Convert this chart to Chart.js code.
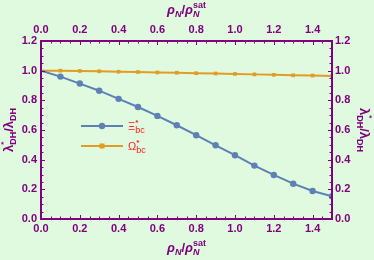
<!DOCTYPE html>
<html>
<head>
<meta charset="utf-8">
<script src="https://cdn.jsdelivr.net/npm/chart.js@4/dist/chart.umd.min.js"></script>
<style>
  html, body { margin: 0; padding: 0; background: #e0fadf; }
  #wrap { width: 374px; height: 260px; }
</style>
</head>
<body>
<div id="wrap"><canvas id="chart"></canvas></div>
<script>
// ---------------- Data ----------------
const densities = [0, 0.1, 0.2, 0.3, 0.4, 0.5, 0.6, 0.7, 0.8, 0.9, 1.0, 1.1, 1.2, 1.3, 1.4, 1.5];
const xiValues = [1.0, 0.96, 0.913, 0.865, 0.81, 0.755, 0.695, 0.632, 0.565, 0.497, 0.43, 0.36, 0.297, 0.238, 0.189, 0.153];
const omegaValues = [1.0, 1.0, 0.998, 0.996, 0.993, 0.991, 0.988, 0.986, 0.983, 0.981, 0.978, 0.975, 0.972, 0.969, 0.967, 0.964];
const xTicks = [0, 0.2, 0.4, 0.6, 0.8, 1.0, 1.2, 1.4];
const yTicks = [0, 0.2, 0.4, 0.6, 0.8, 1.0, 1.2];

const PURPLE = "#800080";
const BLUE = "#5e81b5";
const ORANGE = "#e19c24";
const RED = "#ff1a1a";
const FONT = "'Liberation Sans', Arial, sans-serif";

// ---------------- Helper Functions ----------------

// Draw text made of pieces (base, sub, sup), centred on x
function drawRich(ctx, segs, x, y) {
  let total = 0, held = 0;
  segs.forEach((s) => {
    ctx.font = (s.italic ? "italic " : "") + "bold " + s.size + "px " + FONT;
    s.w = ctx.measureText(s.text).width;
    if (s.stack) { held = s.w; return; }
    total += Math.max(s.w, held);
    held = 0;
  });
  let cx = x - total / 2;
  held = 0;
  segs.forEach((s) => {
    ctx.font = (s.italic ? "italic " : "") + "bold " + s.size + "px " + FONT;
    ctx.fillText(s.text, cx, y + (s.dy || 0));
    if (s.stack) { held = s.w; return; }
    cx += Math.max(s.w, held);
    held = 0;
  });
}

const xTitle = [
  { text: "ρ", size: 13, italic: true },
  { text: "N", size: 9, italic: true, dy: 3 },
  { text: "/", size: 13 },
  { text: "ρ", size: 13, italic: true },
  { text: "sat", size: 9, dy: -6, stack: true },
  { text: "N", size: 9, italic: true, dy: 3 },
];
const yTitle = [
  { text: "λ", size: 13 },
  { text: "*", size: 8, dy: -7, stack: true },
  { text: "DH", size: 9, dy: 3 },
  { text: "/", size: 13 },
  { text: "λ", size: 13 },
  { text: "DH", size: 9, dy: 3 },
];

// Inward major/minor ticks, frame, titles and legend
const framePlugin = {
  id: "frame",
  afterDatasetsDraw(chart) {
    const ctx = chart.ctx;
    const a = chart.chartArea;
    const xs = chart.scales.x, ys = chart.scales.y;
    ctx.save();
    ctx.strokeStyle = PURPLE;
    ctx.lineWidth = 1;
    for (let i = 0; i <= 30; i++) {
      const v = i * 0.05;
      const px = Math.round(xs.getPixelForValue(v)) + 0.5;
      const len = i % 4 === 0 ? 4 : 2.5;
      ctx.beginPath();
      ctx.moveTo(px, a.bottom); ctx.lineTo(px, a.bottom - len);
      ctx.moveTo(px, a.top); ctx.lineTo(px, a.top + len);
      ctx.stroke();
    }
    for (let i = 0; i <= 24; i++) {
      const v = i * 0.05;
      const py = Math.round(ys.getPixelForValue(v)) + 0.5;
      const len = i % 4 === 0 ? 4 : 2.5;
      ctx.beginPath();
      ctx.moveTo(a.left, py); ctx.lineTo(a.left + len, py);
      ctx.moveTo(a.right, py); ctx.lineTo(a.right - len, py);
      ctx.stroke();
    }
    ctx.lineWidth = 2;
    ctx.strokeRect(a.left, a.top, a.right - a.left, a.bottom - a.top);

    // axis titles
    ctx.fillStyle = PURPLE;
    ctx.textBaseline = "alphabetic";
    ctx.textAlign = "left";
    const midX = (a.left + a.right) / 2;
    const midY = (a.top + a.bottom) / 2;
    drawRich(ctx, xTitle, midX, 14);
    drawRich(ctx, xTitle, midX, 252);
    ctx.save();
    ctx.translate(13, midY);
    ctx.rotate(-Math.PI / 2);
    drawRich(ctx, yTitle, 0, 0);
    ctx.restore();
    ctx.save();
    ctx.translate(360, midY);
    ctx.rotate(Math.PI / 2);
    drawRich(ctx, yTitle, 0, 0);
    ctx.restore();

    // legend
    const entries = [
      { color: BLUE, shape: "circle", label: "Ξ", y: 126 },
      { color: ORANGE, shape: "rect", label: "Ω", y: 146 },
    ];
    entries.forEach((e) => {
      ctx.strokeStyle = e.color;
      ctx.lineWidth = 2;
      ctx.beginPath();
      ctx.moveTo(81, e.y); ctx.lineTo(123, e.y);
      ctx.stroke();
      ctx.fillStyle = e.color;
      if (e.shape === "circle") {
        ctx.beginPath(); ctx.arc(102, e.y, 3.2, 0, Math.PI * 2); ctx.fill();
      } else {
        ctx.fillRect(99.5, e.y - 2.5, 5, 5);
      }
      ctx.fillStyle = RED;
      ctx.textAlign = "left";
      ctx.font = "11px " + FONT;
      ctx.fillText(e.label, 128, e.y + 4);
      const w = ctx.measureText(e.label).width;
      ctx.font = "bold 8px " + FONT;
      ctx.fillText("*", 128 + w, e.y - 1);
      ctx.font = "9px " + FONT;
      ctx.fillText("bc", 128 + w, e.y + 7);
    });
    ctx.restore();
  },
};

function fixSize(size) {
  return function (scale) {
    if (scale.isHorizontal()) scale.height = size;
    else scale.width = size;
  };
}

const tickFont = { family: FONT, size: 11, weight: "bold" };
const fmt = (v) => Number(v).toFixed(1);

function xAxis(position, padding, size) {
  return {
    type: "linear",
    position: position,
    min: 0,
    max: 1.5,
    grid: { display: false, drawTicks: false },
    border: { display: false },
    afterFit: fixSize(size),
    afterBuildTicks: (s) => { s.ticks = xTicks.map((v) => ({ value: v })); },
    ticks: { font: tickFont, color: PURPLE, padding: padding, maxRotation: 0, autoSkip: false, callback: fmt },
  };
}

function yAxis(position, padding, size) {
  return {
    type: "linear",
    position: position,
    min: 0,
    max: 1.2,
    grid: { display: false, drawTicks: false },
    border: { display: false },
    afterFit: fixSize(size),
    afterBuildTicks: (s) => { s.ticks = yTicks.map((v) => ({ value: v })); },
    ticks: { font: tickFont, color: PURPLE, padding: padding, autoSkip: false, callback: fmt },
  };
}

// ---------------- Chart.js Setup ----------------
const ctx = document.getElementById("chart").getContext("2d");
new Chart(ctx, {
  type: "line",
  data: {
    datasets: [
      {
        label: "Xi",
        data: densities.map((x, i) => ({ x: x, y: xiValues[i] })),
        borderColor: BLUE,
        backgroundColor: BLUE,
        borderWidth: 2,
        pointStyle: "circle",
        pointRadius: (c) => (c.dataIndex === 0 ? 0 : 3.2),
        pointBorderWidth: 0,
        clip: 0,
        xAxisID: "x",
        yAxisID: "y",
      },
      {
        label: "Omega",
        data: densities.map((x, i) => ({ x: x, y: omegaValues[i] })),
        borderColor: ORANGE,
        backgroundColor: ORANGE,
        borderWidth: 2,
        pointStyle: "rect",
        pointRadius: (c) => (c.dataIndex === 0 ? 0 : 2.6),
        pointBorderWidth: 0,
        clip: 0,
        xAxisID: "x",
        yAxisID: "y",
      },
    ],
  },
  options: {
    responsive: true,
    maintainAspectRatio: false,
    animation: false,
    layout: { padding: 0 },
    plugins: {
      legend: { display: false },
      tooltip: { enabled: false },
    },
    scales: {
      x: xAxis("bottom", 3, 41),
      x2: xAxis("top", 4, 41),
      y: yAxis("left", 4, 41),
      y2: yAxis("right", 3, 42),
    },
  },
  plugins: [framePlugin],
});
</script>
</body>
</html>
